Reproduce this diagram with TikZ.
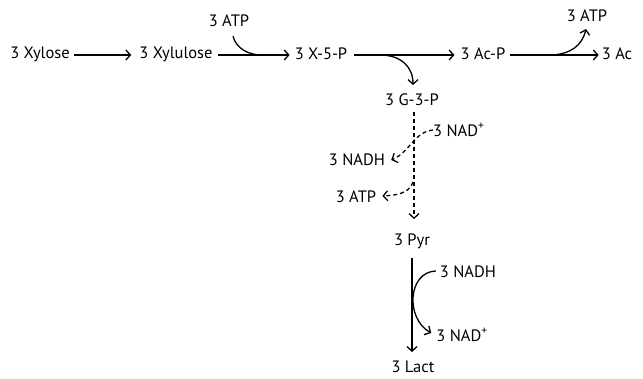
\documentclass[tikz,border=0pt]{standalone}
\usepackage{fontspec}
\setmainfont{PT Sans}
\usetikzlibrary{arrows.meta}
\begin{document}
\begin{tikzpicture}[x=1pt,y=-1pt,
  lbl/.style={inner sep=0pt,font=\fontsize{16.5}{18}\selectfont},
  rxn/.style={line width=1.3pt,-{Straight Barb[length=4.5pt,width=10pt,line width=1.3pt]}},
  plain/.style={line width=1.3pt},
  dsh/.style={rxn,dash pattern=on 4pt off 3pt}]
\useasboundingbox (0,0) rectangle (643,379);
% metabolites
\node[lbl] (xyl)  at (40,54)  {3 Xylose};
\node[lbl] (xylu) at (176,54) {3 Xylulose};
\node[lbl] (atpa) at (229,21) {3 ATP};
\node[lbl] (x5p)  at (321,54) {3 X-5-P};
\node[lbl] (acp)  at (483,54) {3 Ac-P};
\node[lbl] (atpb) at (587,16) {3 ATP};
\node[lbl] (ac)   at (617,54) {3 Ac};
\node[lbl] (g3p)  at (412,100) {3 G-3-P};
\node[lbl,anchor=west] (nadp) at (433,130) {3 NAD\textsuperscript{+}};
\node[lbl] (nadha) at (357,160) {3 NADH};
\node[lbl] (atpc) at (356,197) {3 ATP};
\node[lbl] (pyr)  at (412,241) {3 Pyr};
\node[lbl] (nadhb) at (468,272) {3 NADH};
\node[lbl] (nadpb) at (462,335) {3 NAD\textsuperscript{+}};
\node[lbl] (lact) at (413,367) {3 Lact};
% branch points and arrow ends (yshift is in page direction: negative = down)
\coordinate (a1) at ([xshift=4pt,yshift=-9pt]atpa.south);
\coordinate (m1) at (262,55);
\coordinate (m2) at (380,55);
\coordinate (m3) at (552,55);
\coordinate (b1) at (586,29);
\coordinate (m4) at (413,182);
\coordinate (gin) at (413,85);
\coordinate (gtop) at (414,112);
\coordinate (gbot) at (414,219);
\coordinate (ptop) at (412,258);
\coordinate (pbot) at (412,352);
% main chain
\draw[rxn] ([xshift=4pt,yshift=-1pt]xyl.east) -- ([xshift=-8pt,yshift=-1pt]xylu.west);
\draw[rxn] ([xshift=5pt,yshift=-1pt]xylu.east) -- ([xshift=-5pt,yshift=-1pt]x5p.west);
\draw[plain] (a1) .. controls +(3,12) and (248,55) .. (m1);
\draw[rxn] ([xshift=7pt,yshift=-1pt]x5p.east) -- ([xshift=-6pt,yshift=-1pt]acp.west);
\draw[rxn] (m2) .. controls (400,55) and (413,66) .. (gin);
\draw[rxn] ([xshift=4pt,yshift=-1pt]acp.east) -- ([xshift=-3pt,yshift=-1pt]ac.west);
\draw[rxn] (m3) .. controls (570,54) and (582,46) .. (b1);
% glycolysis (dashed)
\draw[dsh] (gtop) -- (gbot);
\draw[dsh] (nadp.west) .. controls (414,132) and (410,152) .. ([xshift=6pt]nadha.east);
\draw[dsh] (m4) .. controls (410,190) and (404,195) .. ([xshift=6pt,yshift=1pt]atpc.east);
% lactate formation
\draw[rxn] (ptop) -- (pbot);
\draw[rxn] ([xshift=-4pt,yshift=1pt]nadhb.west) .. controls (408,272) and (405,318) .. ([xshift=-5pt,yshift=2pt]nadpb.west);
\end{tikzpicture}
\end{document}
